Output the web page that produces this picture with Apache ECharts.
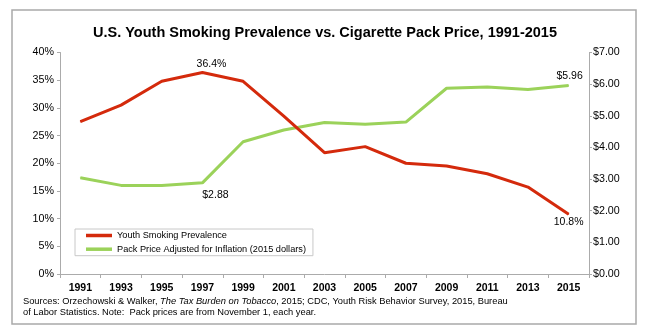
<!DOCTYPE html>
<html>
<head>
<meta charset="utf-8">
<script src="https://cdn.jsdelivr.net/npm/echarts@6/dist/echarts.min.js"></script>
<style>
html,body{margin:0;padding:0;background:#fff;}
#c{width:649px;height:332px;}
</style>
</head>
<body>
<div id="c"></div>
<script>
const years = ['1991','1993','1995','1997','1999','2001','2003','2005','2007','2009','2011','2013','2015'];
const youthSmoking = [27.5, 30.5, 34.8, 36.4, 34.8, 28.5, 21.9, 23.0, 20.0, 19.5, 18.1, 15.7, 10.8];
const packPrice = [3.04, 2.80, 2.80, 2.88, 4.18, 4.55, 4.79, 4.73, 4.80, 5.87, 5.91, 5.83, 5.96];
const seriesNames = ['Youth Smoking Prevalence', 'Pack Price Adjusted for Inflation (2015 dollars)'];
const titleText = 'U.S. Youth Smoking Prevalence vs. Cigarette Pack Price, 1991-2015';

const FONT = '"Liberation Sans", Arial, Helvetica, sans-serif';
const RED = '#D42A0C';
const GREEN = '#9BD25A';
const AXIS = '#ababab';

function labelCfg(pos, dist, offsetX, fmt) {
  return {show: true, position: pos, distance: dist, offset: [offsetX, 0],
    color: '#000', fontFamily: FONT, fontSize: 10.5, formatter: fmt};
}

const smokingData = youthSmoking.map((v, i) => {
  const d = {value: v};
  if (years[i] === '1997') d.label = labelCfg('top', 2, 9, v.toFixed(1) + '%');
  if (years[i] === '2015') d.label = labelCfg('bottom', 2, 0, v.toFixed(1) + '%');
  return d;
});
const priceData = packPrice.map((v, i) => {
  const d = {value: v};
  if (years[i] === '1997') d.label = labelCfg('bottom', 6, 13, '$' + v.toFixed(2));
  if (years[i] === '2015') d.label = labelCfg('top', 3, 1, '$' + v.toFixed(2));
  return d;
});

const chart = echarts.init(document.getElementById('c'), null, {renderer: 'canvas'});
chart.setOption({
  animation: false,
  backgroundColor: '#fff',
  title: [
    {text: titleText, left: 325, top: 25, padding: 0, textAlign: 'center',
     textStyle: {fontFamily: FONT, fontSize: 14.5, fontWeight: 'bold', color: '#000'}},
    {text: 'Sources: Orzechowski & Walker, {i|The Tax Burden on Tobacco}, 2015; CDC, Youth Risk Behavior Survey, 2015, Bureau\nof Labor Statistics. Note:  Pack prices are from November 1, each year.',
     left: 23, top: 296, padding: 0,
     textStyle: {fontFamily: FONT, fontSize: 9.3, fontWeight: 'normal', color: '#000', lineHeight: 11,
       rich: {i: {fontFamily: FONT, fontSize: 9.3, fontStyle: 'italic', color: '#000', lineHeight: 11}}}}
  ],
  graphic: [
    {type: 'rect', shape: {x: 12, y: 10, width: 624, height: 314},
     style: {fill: 'none', stroke: '#a9a9a9', lineWidth: 1.5}, silent: true, z: -1}
  ],
  legend: {
    orient: 'vertical', left: 75, top: 229,
    padding: [1, 7, 1, 11], itemGap: 2.7, itemWidth: 26, itemHeight: 3.5,
    icon: 'rect', borderColor: '#c8c8c8', borderWidth: 1, backgroundColor: '#fff',
    textStyle: {fontFamily: FONT, fontSize: 9.2, color: '#000', lineHeight: 11},
    data: seriesNames
  },
  grid: {left: 60, right: 60, top: 52.5, height: 221.5, containLabel: false},
  xAxis: {
    type: 'category', data: years, boundaryGap: true,
    axisLine: {lineStyle: {color: AXIS, width: 1}},
    axisTick: {show: true, length: 4, lineStyle: {color: AXIS}},
    axisLabel: {interval: 0, margin: 9, color: '#000', fontFamily: FONT, fontSize: 10.5, fontWeight: 'bold'}
  },
  yAxis: [
    {type: 'value', min: 0, max: 40, interval: 5, position: 'left',
     splitLine: {show: false},
     axisLine: {show: true, lineStyle: {color: AXIS, width: 1}},
     axisTick: {show: true, length: 3, lineStyle: {color: AXIS}},
     axisLabel: {margin: 6, color: '#000', fontFamily: FONT, fontSize: 10.7, formatter: v => v + '%'}},
    {type: 'value', min: 0, max: 7, interval: 1, position: 'right',
     splitLine: {show: false},
     axisLine: {show: true, lineStyle: {color: AXIS, width: 1}},
     axisTick: {show: true, length: 3, lineStyle: {color: AXIS}},
     axisLabel: {margin: 4, color: '#000', fontFamily: FONT, fontSize: 10.7, formatter: v => '$' + v.toFixed(2)}}
  ],
  series: [
    {name: seriesNames[0], type: 'line', yAxisIndex: 0, data: smokingData,
     showSymbol: true, symbol: 'circle', symbolSize: 1, color: RED,
     itemStyle: {color: RED},
     lineStyle: {color: RED, width: 3}, z: 3},
    {name: seriesNames[1], type: 'line', yAxisIndex: 1, data: priceData,
     showSymbol: true, symbol: 'circle', symbolSize: 1, color: GREEN,
     itemStyle: {color: GREEN},
     lineStyle: {color: GREEN, width: 3}, z: 2}
  ]
});
</script>
</body>
</html>
